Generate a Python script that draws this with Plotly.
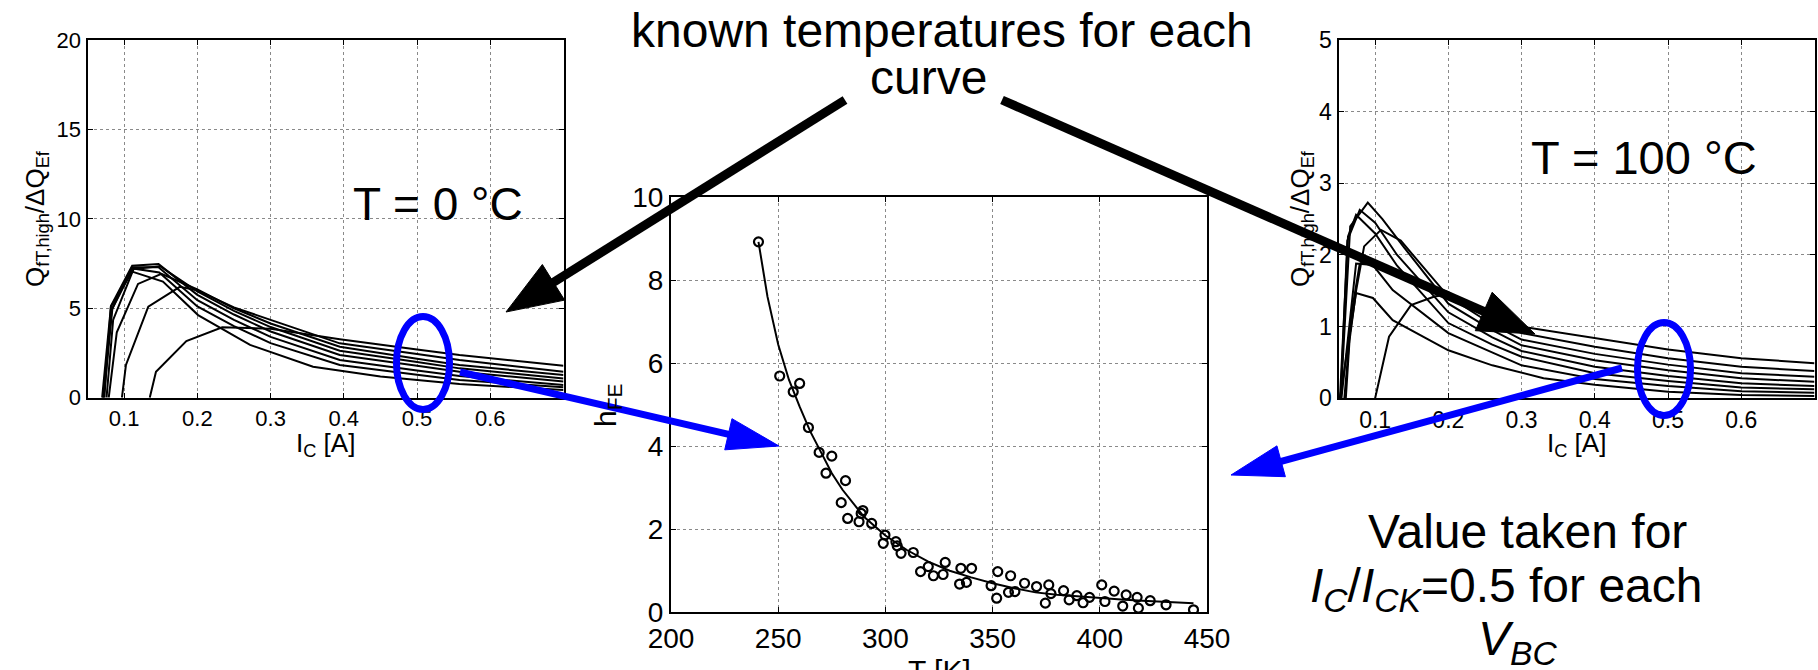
import math
import plotly.graph_objects as go

W, H = 1818, 670
FONT = "Liberation Sans, Arial, Helvetica, sans-serif"

# ---- Q_fT,high / dQ_Ef versus I_C at T = 0 degC (one list per V_BC) ----
ic_0c = [
    [0.070, 0.082, 0.111, 0.153, 0.201, 0.272, 0.358, 0.45, 0.558, 0.70],
    [0.071, 0.083, 0.112, 0.148, 0.20, 0.25, 0.30, 0.3945, 0.50, 0.558, 0.70],
    [0.072, 0.084, 0.111, 0.147, 0.20, 0.25, 0.30, 0.3945, 0.50, 0.558, 0.70],
    [0.073, 0.082, 0.111, 0.147, 0.20, 0.25, 0.30, 0.3945, 0.50, 0.558, 0.70],
    [0.076, 0.085, 0.113, 0.149, 0.20, 0.25, 0.30, 0.3945, 0.50, 0.558, 0.70],
    [0.079, 0.090, 0.119, 0.151, 0.20, 0.25, 0.30, 0.3945, 0.50, 0.558, 0.70],
    [0.097, 0.1025, 0.133, 0.176, 0.20, 0.25, 0.30, 0.3945, 0.50, 0.558, 0.70],
    [0.135, 0.1435, 0.185, 0.234, 0.30, 0.3945, 0.50, 0.558, 0.70],
]
q_0c = [
    [0, 5.1, 7.05, 6.49, 4.62, 2.95, 1.73, 1.18, 0.77, 0.43],
    [0, 4.9, 7.23, 7.0, 5.1, 4.0, 3.05, 1.83, 1.28, 0.99, 0.58],
    [0, 5.0, 7.3, 7.3, 5.45, 4.35, 3.4, 2.11, 1.52, 1.21, 0.71],
    [0, 5.13, 7.38, 7.47, 5.75, 4.65, 3.7, 2.39, 1.78, 1.45, 0.90],
    [0, 4.35, 7.2, 7.35, 5.95, 4.85, 3.95, 2.63, 1.99, 1.64, 1.08],
    [0, 3.66, 6.36, 6.92, 6.05, 5.0, 4.15, 2.85, 2.18, 1.83, 1.27],
    [0, 1.83, 5.09, 6.2, 6.0, 5.05, 4.35, 3.04, 2.44, 2.11, 1.45],
    [0, 1.45, 3.17, 3.94, 3.85, 3.27, 2.7, 2.39, 1.79],
]

# ---- same quantity at T = 100 degC ----
ic_100c = [
    [0.052, 0.074, 0.097, 0.124, 0.20, 0.26, 0.33, 0.40, 0.50, 0.60, 0.70],
    [0.054, 0.074, 0.097, 0.124, 0.20, 0.26, 0.30, 0.40, 0.50, 0.60, 0.70],
    [0.052, 0.063, 0.074, 0.10, 0.13, 0.20, 0.26, 0.30, 0.40, 0.50, 0.60, 0.70],
    [0.053, 0.062, 0.079, 0.10, 0.13, 0.20, 0.26, 0.30, 0.40, 0.50, 0.60, 0.70],
    [0.053, 0.066, 0.090, 0.11, 0.14, 0.20, 0.26, 0.30, 0.40, 0.50, 0.60, 0.70],
    [0.060, 0.065, 0.074, 0.085, 0.108, 0.135, 0.20, 0.26, 0.30, 0.40, 0.50, 0.60, 0.70],
    [0.058, 0.068, 0.079, 0.10, 0.13, 0.16, 0.20, 0.26, 0.30, 0.40, 0.50, 0.60, 0.70],
    [0.10, 0.119, 0.149, 0.181, 0.20, 0.26, 0.30, 0.40, 0.50, 0.60, 0.70],
]
q_100c = [
    [0, 1.47, 1.40, 1.09, 0.67, 0.46, 0.28, 0.19, 0.09, 0.046, 0.032],
    [0, 1.88, 1.86, 1.51, 0.91, 0.64, 0.46, 0.27, 0.17, 0.10, 0.078],
    [0, 2.26, 2.56, 2.3, 1.85, 1.05, 0.75, 0.58, 0.35, 0.24, 0.15, 0.125],
    [0, 2.2, 2.63, 2.45, 2.0, 1.2, 0.85, 0.66, 0.44, 0.31, 0.21, 0.17],
    [0, 2.4, 2.73, 2.5, 2.1, 1.32, 0.95, 0.74, 0.53, 0.39, 0.28, 0.23],
    [0, 0.8, 1.5, 2.12, 2.35, 2.2, 1.42, 1.03, 0.82, 0.62, 0.47, 0.35, 0.30],
    [0, 1.2, 1.88, 1.9, 1.75, 1.62, 1.48, 1.1, 0.91, 0.72, 0.56, 0.44, 0.38],
    [0, 0.86, 1.30, 1.42, 1.45, 1.2, 1.0, 0.84, 0.68, 0.56, 0.49],
]

# ---- extracted h_FE versus temperature ----
t_pts = [240.8, 250.7, 257.0, 260.0, 264.1, 269.1, 275.0, 272.3, 281.4, 279.4,
         282.4, 287.7, 289.5, 288.7, 293.6, 299.8, 299.0, 304.9, 305.5, 307.3,
         313.0, 316.4, 320.0, 322.4, 326.9, 327.9, 335.2, 334.6, 337.8, 340.2,
         349.3, 351.9, 352.4, 357.4, 358.4, 360.4, 364.9, 370.5, 374.6, 376.2,
         377.2, 383.1, 385.7, 389.3, 392.2, 395.2, 400.9, 402.4, 406.7, 410.7,
         412.3, 417.4, 418.0, 423.5, 430.9, 443.7]
h_pts = [8.92, 5.69, 5.31, 5.51, 4.45, 3.85, 3.76, 3.35, 3.17, 2.64,
         2.26, 2.18, 2.45, 2.38, 2.14, 1.86, 1.66, 1.70, 1.60, 1.42,
         1.44, 0.98, 1.10, 0.88, 0.91, 1.20, 1.06, 0.68, 0.72, 1.06,
         0.64, 0.34, 0.98, 0.48, 0.88, 0.50, 0.70, 0.62, 0.22, 0.66,
         0.45, 0.52, 0.30, 0.40, 0.23, 0.36, 0.66, 0.26, 0.51, 0.15,
         0.42, 0.36, 0.10, 0.28, 0.18, 0.06]
t_fit = [240.8, 245, 250, 255, 260, 265, 270, 275, 280, 290, 300, 310, 320,
         330, 340, 350, 360, 370, 380, 390, 400, 410, 420, 430, 443.7]
h_fit = [8.92, 7.6, 6.45, 5.6, 4.95, 4.35, 3.85, 3.35, 2.95, 2.30, 1.85, 1.50,
         1.22, 1.00, 0.84, 0.70, 0.58, 0.48, 0.42, 0.38, 0.34, 0.31, 0.28,
         0.25, 0.22]

ic_ticks = [0.1, 0.2, 0.3, 0.4, 0.5, 0.6]


def fx(x):
    return x / W


def fy(y):
    return 1 - y / H


fig = go.Figure()
for xs, ys in zip(ic_0c, q_0c):
    fig.add_trace(go.Scatter(x=xs, y=ys, mode="lines", xaxis="x", yaxis="y",
                             line=dict(color="black", width=2)))
for xs, ys in zip(ic_100c, q_100c):
    fig.add_trace(go.Scatter(x=xs, y=ys, mode="lines", xaxis="x3", yaxis="y3",
                             line=dict(color="black", width=2)))
fig.add_trace(go.Scatter(x=t_fit, y=h_fit, mode="lines", xaxis="x2", yaxis="y2",
                         line=dict(color="black", width=2)))
fig.add_trace(go.Scatter(x=t_pts, y=h_pts, mode="markers", xaxis="x2", yaxis="y2",
                         marker=dict(symbol="circle-open", size=9, color="black",
                                     line=dict(width=2.2, color="black"))))


def axis(domain, rng, tickvals, size, anchor):
    return dict(domain=domain, range=rng, tickvals=tickvals, anchor=anchor,
                showline=True, linecolor="black", linewidth=2, mirror="ticks",
                ticks="inside", ticklen=5, tickcolor="black", tickwidth=1,
                showgrid=True, gridcolor="#8a8a8a", griddash="dot", gridwidth=1,
                zeroline=False, tickfont=dict(family=FONT, size=size, color="black"),
                fixedrange=True)


# pixel boxes of the three panels
left_box = (87.5, 563.5, 40, 397.7)
mid_box = (671, 1207, 197, 612.3)
right_box = (1338.5, 1814.5, 40, 398.3)


def dom(box):
    x0, x1, y0, y1 = box
    return [fx(x0), fx(x1)], [fy(y1), fy(y0)]


ldx, ldy = dom(left_box)
mdx, mdy = dom(mid_box)
rdx, rdy = dom(right_box)

fig.update_layout(
    width=W, height=H, margin=dict(l=0, r=0, t=0, b=0, autoexpand=False),
    paper_bgcolor="white", plot_bgcolor="white", showlegend=False,
    font=dict(family=FONT, color="black"),
    xaxis=axis(ldx, [0.05, 0.7], ic_ticks, 22, "y"),
    yaxis=axis(ldy, [0, 20], [0, 5, 10, 15, 20], 22, "x"),
    xaxis2=axis(mdx, [200, 450], [200, 250, 300, 350, 400, 450], 28, "y2"),
    yaxis2=axis(mdy, [0, 10], [0, 2, 4, 6, 8, 10], 28, "x2"),
    xaxis3=axis(rdx, [0.05, 0.7], ic_ticks, 23, "y3"),
    yaxis3=axis(rdy, [0, 5], [0, 1, 2, 3, 4, 5], 23, "x3"),
)


def text(label, x, y, size, angle=0, xanchor="center", yanchor="middle"):
    fig.add_annotation(text=label, x=fx(x), y=fy(y), xref="paper", yref="paper",
                       showarrow=False, textangle=angle, xanchor=xanchor,
                       yanchor=yanchor, font=dict(family=FONT, size=size, color="black"))


q_title = "Q<sub>fT,high</sub>/ΔQ<sub>Ef</sub>"
text(q_title, 36, 219, 26, angle=-90)
text(q_title, 1301, 219, 26, angle=-90)
text("I<sub>C</sub> [A]", 325.5, 444, 26)
text("I<sub>C</sub> [A]", 1576.5, 444, 26)
text("h<sub>FE</sub>", 607, 405, 30, angle=-90)
text("T [K]", 939, 670, 30)

text("known temperatures for each", 942, 30, 48)
text("curve", 928, 77, 48)
text("T = 0 °C", 438, 204, 46)
text("T = 100 °C", 1644, 157, 47)
text("Value taken for", 1527, 531, 48)
text("<i>I</i><sub><i>C</i></sub>/<i>I</i><sub><i>CK</i></sub>=0.5 for each", 1506, 589, 48)
text("<i>V</i><sub><i>BC</i></sub>", 1517, 642, 48)

# callout arrows and rings (pixel positions on the page)
BLACK_ARROWS = [((845, 100), (506, 312)), ((1002, 100), (1535, 334))]
BLUE_ARROWS = [((460, 372), (779, 446)), ((1622, 368), (1231, 475))]
RINGS = [(423, 363), (1664, 369)]


def add_arrow(tail, tip, color, width, head_len, head_half):
    (x0, y0), (x1, y1) = tail, tip
    dx, dy = x1 - x0, y1 - y0
    L = math.hypot(dx, dy)
    ux, uy = dx / L, dy / L
    nx, ny = -uy, ux
    ex, ey = x1 - ux * head_len * 0.8, y1 - uy * head_len * 0.8
    fig.add_shape(type="line", xref="paper", yref="paper", layer="above",
                  x0=fx(x0), y0=fy(y0), x1=fx(ex), y1=fy(ey),
                  line=dict(color=color, width=width))
    bx, by = x1 - ux * head_len, y1 - uy * head_len
    pts = [(x1, y1), (bx + nx * head_half, by + ny * head_half),
           (bx - nx * head_half, by - ny * head_half)]
    path = "M " + " L ".join(f"{fx(px):.5f},{fy(py):.5f}" for px, py in pts) + " Z"
    fig.add_shape(type="path", path=path, xref="paper", yref="paper", layer="above",
                  fillcolor=color, line=dict(color=color, width=1))


for tail, tip in BLACK_ARROWS:
    add_arrow(tail, tip, "black", 9, 56, 21)
for tail, tip in BLUE_ARROWS:
    add_arrow(tail, tip, "#0000ff", 7, 52, 16)
for cx, cy in RINGS:
    fig.add_shape(type="circle", xref="paper", yref="paper", layer="above",
                  x0=fx(cx - 26.5), x1=fx(cx + 26.5), y0=fy(cy + 46.5), y1=fy(cy - 46.5),
                  line=dict(color="#0000ff", width=7))

fig.write_html("out.html", config={"displayModeBar": False})
